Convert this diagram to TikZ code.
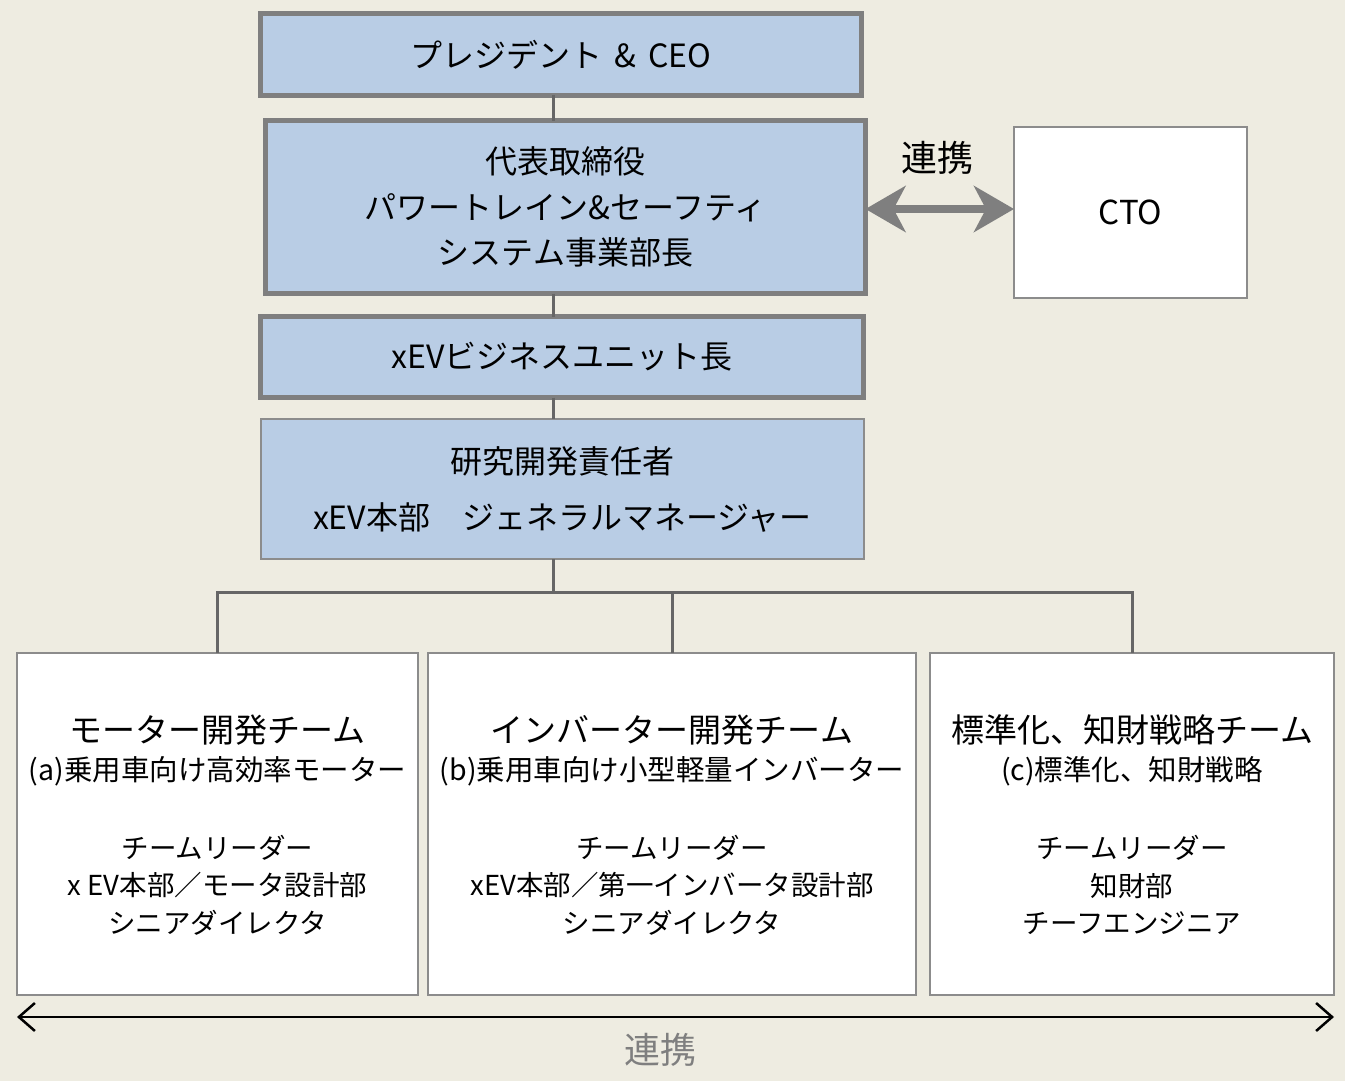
\documentclass[tikz,border=0pt]{standalone}
\usepackage{fontspec}
\setmainfont{Noto Sans CJK JP}
\usetikzlibrary{arrows.meta}
\definecolor{bg}{HTML}{EEECE1}
\definecolor{boxblue}{HTML}{B9CDE5}
\definecolor{bordergray}{HTML}{7F7F7F}
\definecolor{thingray}{HTML}{8C8C8C}
\definecolor{linegray}{HTML}{666666}
\begin{document}
\begin{tikzpicture}[x=1pt,y=-1pt,
  thickbox/.style={draw=bordergray, line width=5pt, fill=boxblue, inner sep=0pt, outer sep=0pt, align=center},
  thinblue/.style={draw=thingray, line width=1.5pt, fill=boxblue, inner sep=0pt, outer sep=0pt, align=center},
  whitebox/.style={draw=thingray, line width=1.5pt, fill=white, inner sep=0pt, outer sep=0pt, align=center},
  conn/.style={draw=linegray, line width=3pt},
  bigtxt/.style={font=\fontsize{32}{45.5}\selectfont},
  headtxt/.style={inner sep=0pt, font=\fontsize{33}{38}\selectfont},
  subtxt/.style={inner sep=0pt, font=\fontsize{28.5}{33}\selectfont},
  leadtxt/.style={inner sep=0pt, align=center, font=\fontsize{27.5}{37.5}\selectfont},
  tietxt/.style={inner sep=0pt, font=\fontsize{36}{40}\selectfont}]
\fill[bg] (0,0) rectangle (1345,1081);
\useasboundingbox (0,0) rectangle (1345,1081);
% upper chain
\node[thickbox, bigtxt, minimum width=601pt, minimum height=82pt] (ceo) at (561,54.5) {プレジデント\hspace{12pt}\&\hspace{12pt}CEO};
\node[thickbox, bigtxt, minimum width=600pt, minimum height=173pt] (rep) at (565.5,207) {代表取締役\\パワートレイン\&セーフティ\\システム事業部長};
\node[thickbox, bigtxt, minimum width=603pt, minimum height=81pt] (xbu) at (562,357) {xEVビジネスユニット長};
\node[thinblue, font=\fontsize{32}{56}\selectfont, minimum width=603pt, minimum height=140pt] (gm) at (562.5,489) {研究開発責任者\\xEV本部　ジェネラルマネージャー};
\node[whitebox, font=\fontsize{33}{40}\selectfont, minimum width=233pt, minimum height=171pt] (cto) at (1130.5,212.5) {CTO};
% bottom teams
\node[whitebox, minimum width=401pt, minimum height=342pt] (ta) at (217.5,824) {};
\node[whitebox, minimum width=488pt, minimum height=342pt] (tb) at (672,824) {};
\node[whitebox, minimum width=404pt, minimum height=342pt] (tc) at (1132,824) {};
\node[headtxt] (ta1) at (217.5,730) {モーター開発チーム};
\node[subtxt] (ta2) at (217.5,771) {(a)乗用車向け高効率モーター};
\node[leadtxt] (ta3) at (217.5,885) {チームリーダー\\x EV本部／モータ設計部\\シニアダイレクタ};
\node[headtxt] (tb1) at (672,730) {インバーター開発チーム};
\node[subtxt] (tb2) at (672,771) {(b)乗用車向け小型軽量インバーター};
\node[leadtxt] (tb3) at (672,885) {チームリーダー\\xEV本部／第一インバータ設計部\\シニアダイレクタ};
\node[headtxt] (tc1) at (1132,730) {標準化、知財戦略チーム};
\node[subtxt] (tc2) at (1132,771) {(c)標準化、知財戦略};
\node[leadtxt] (tc3) at (1132,885) {チームリーダー\\知財部\\チーフエンジニア};
% connectors
\coordinate (spine) at (553,0);
\coordinate (bus) at (0,592);
\draw[conn] (ceo.south -| spine) -- (rep.north -| spine);
\draw[conn] (rep.south -| spine) -- (xbu.north -| spine);
\draw[conn] (xbu.south -| spine) -- (gm.north -| spine);
\draw[conn] (gm.south -| spine) -- (spine |- bus);
\draw[conn] (ta.north) -- (ta.north |- bus) -- (tc.north |- bus) -- (tc.north);
\draw[conn] (tb.north) -- (tb.north |- bus);
% CTO link
\coordinate (arr) at (0,209);
\draw[draw=bordergray, line width=8pt, {Stealth[length=40pt,width=46pt,inset=12pt]}-{Stealth[length=40pt,width=46pt,inset=12pt]}] (rep.east |- arr) -- (cto.west |- arr);
\node[tietxt] (tie1) at (937,158) {連携};
% bottom link
\coordinate (bl) at (17,1017);
\coordinate (br) at (1334,1017);
\draw[line width=2.5pt, {Straight Barb[length=16pt,width=28pt]}-{Straight Barb[length=16pt,width=28pt]}] (bl) -- (br);
\node[tietxt, text=bordergray] (tie2) at (660,1050) {連携};
\end{tikzpicture}
\end{document}
